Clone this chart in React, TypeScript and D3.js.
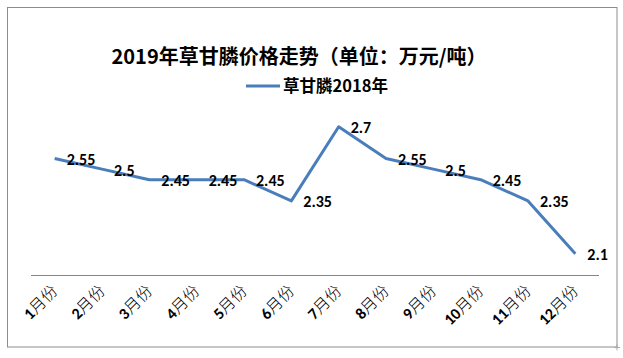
import React from "react";
import * as d3 from "d3";

const title = "2019年草甘膦价格走势（单位：万元/吨）";
const seriesName = "草甘膦2018年";
const months = ["1月份", "2月份", "3月份", "4月份", "5月份", "6月份", "7月份", "8月份", "9月份", "10月份", "11月份", "12月份"];
const prices = [2.55, 2.5, 2.45, 2.45, 2.45, 2.35, 2.7, 2.55, 2.5, 2.45, 2.35, 2.1];
const yDomain = [2.0, 2.8];

export default function App() {
  const W = 623, H = 358;
  const left = 31, right = 599, bottom = 275, top = 105.6;
  const x = d3.scaleBand<string>().domain(months).range([left, right]).paddingInner(0).paddingOuter(0);
  const y = d3.scaleLinear().domain(yDomain).range([bottom, top]);
  const cx = (m: string) => (x(m) as number) + x.bandwidth() / 2;
  const line = d3.line<number>().x((_, i) => cx(months[i])).y((d) => y(d));
  const blue = "#4A7EBB";
  const latin = "Calibri, 'Liberation Sans', Arial, sans-serif";
  const cjk = "'Noto Sans CJK SC', 'Liberation Sans', sans-serif";
  return (
    <svg width={W} height={H} style={{ position: "absolute", left: 0, top: 0, background: "#fff" }} fontFamily={cjk}>
      <rect x={7.5} y={7.5} width={609.5} height={339.5} fill="#fff" stroke="#8c8c8c" strokeWidth={1} />
      <path d="M617 344.5 V350.5 M614 347.5 H620" stroke="#aaa" strokeWidth={1} />
      <text x={299} y={64} textAnchor="middle" fontSize={20} fontWeight="bold" fill="#000">{title}</text>
      <line x1={246} x2={280} y1={86} y2={86} stroke={blue} strokeWidth={3} />
      <text x={283} y={92} fontSize={16.5} fontWeight="bold" fill="#000">{seriesName}</text>
      <line x1={left} x2={right} y1={bottom + 0.5} y2={bottom + 0.5} stroke="#868686" strokeWidth={1} />
      <path d={line(prices) as string} fill="none" stroke={blue} strokeWidth={3} strokeLinejoin="round" />
      {prices.map((v, i) => (
        <text key={i} x={cx(months[i]) + 12} y={y(v) + 6.5} fontSize={16} fontWeight="bold" fontFamily={latin} fill="#000">
          {String(v)}
        </text>
      ))}
      {months.map((m) => {
        const px = cx(m) + 4, py = 292;
        return (
          <text key={m} x={px} y={py} textAnchor="end" transform={`rotate(-45 ${px} ${py})`} fontSize={16} fill="#000">
            <tspan fontWeight="bold" fontFamily={latin}>{m.replace("月份", "")}</tspan>
            <tspan fontFamily={cjk} fontWeight={300}>月份</tspan>
          </text>
        );
      })}
    </svg>
  );
}
